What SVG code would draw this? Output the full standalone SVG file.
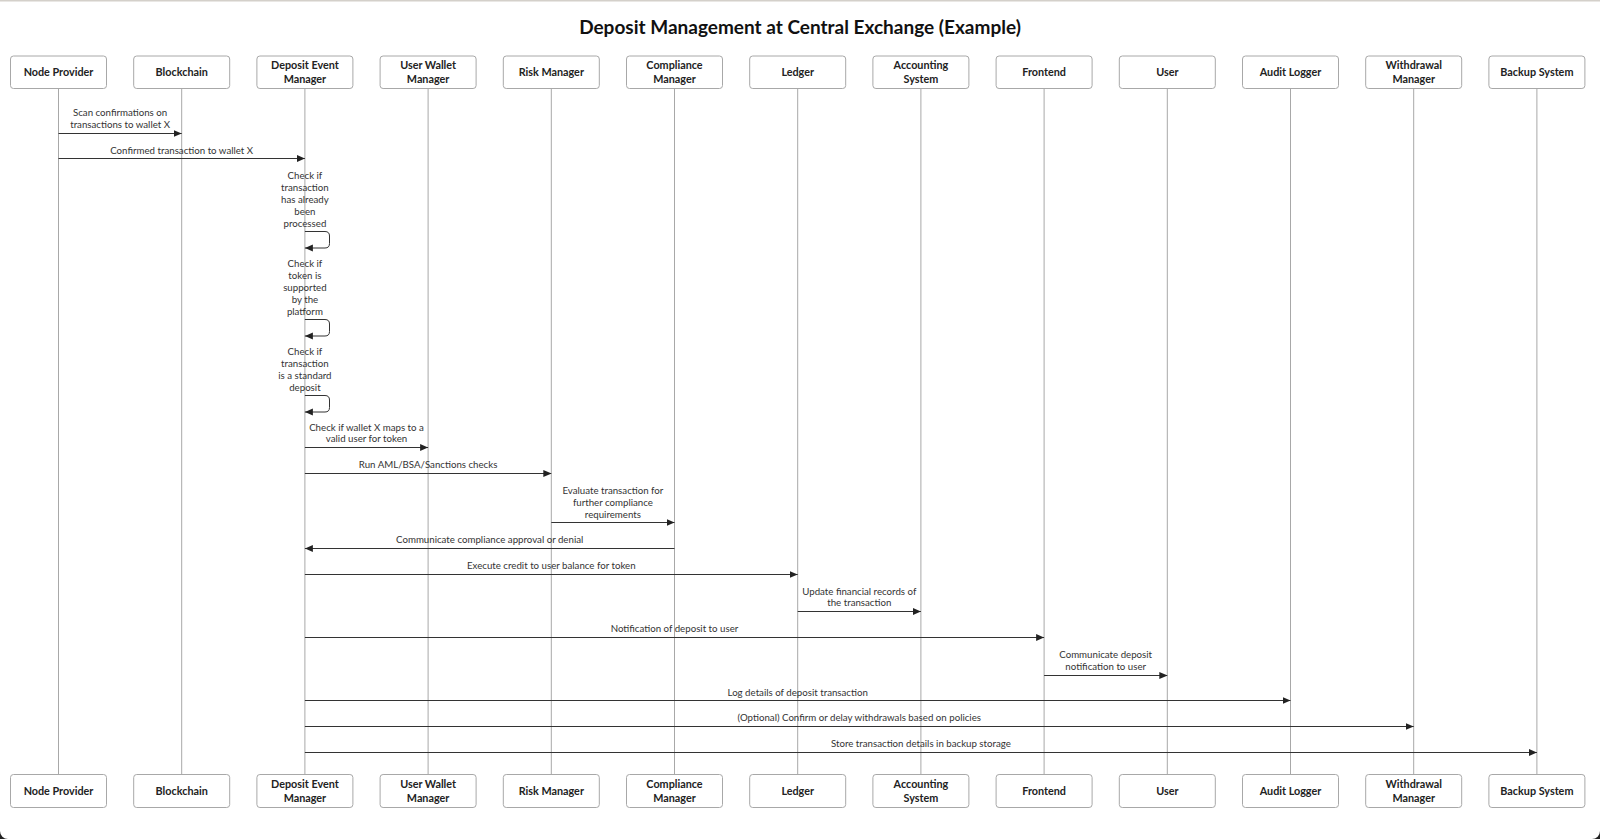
<svg xmlns="http://www.w3.org/2000/svg" width="1600" height="839" viewBox="0 0 1600 839">
<defs>
<marker id="ah" viewBox="0 0 8 8" refX="8" refY="4" markerWidth="8" markerHeight="8" markerUnits="userSpaceOnUse" orient="auto">
<path d="M0,0.5 L8,4 L0,7.5 Z" fill="#222"/>
</marker>
<style>
.box{fill:#fff;stroke:#a8a8a8;stroke-width:1}
.life{stroke:#a8a8a8;stroke-width:1;fill:none}
.msg{stroke:#333;stroke-width:1;fill:none;marker-end:url(#ah)}
.an{font-family:Lato,"Liberation Sans",sans-serif;font-size:10.8px;font-weight:bold;fill:#222;text-anchor:middle}
.ml{font-family:Lato,"Liberation Sans",sans-serif;font-size:9.7px;fill:#333;text-anchor:middle}
.title{font-family:Lato,"Liberation Sans",sans-serif;font-size:19px;font-weight:bold;fill:#111;text-anchor:middle}
</style>
</defs>
<rect x="0" y="0" width="1600" height="839" fill="#fff"/>
<rect x="0" y="0" width="1600" height="1.5" fill="#d4d0ca"/>
<path d="M0,831 A8,8 0 0 0 8,839 L0,839 Z" fill="#222"/>
<path d="M1600,831 A8,8 0 0 1 1592,839 L1600,839 Z" fill="#222"/>
<text class="title" x="800" y="33.5">Deposit Management at Central Exchange (Example)</text>

<g id="lifelines">
<line class="life" x1="58.5" y1="88" x2="58.5" y2="774"/>
<line class="life" x1="181.7" y1="88" x2="181.7" y2="774"/>
<line class="life" x1="304.9" y1="88" x2="304.9" y2="774"/>
<line class="life" x1="428.1" y1="88" x2="428.1" y2="774"/>
<line class="life" x1="551.3" y1="88" x2="551.3" y2="774"/>
<line class="life" x1="674.5" y1="88" x2="674.5" y2="774"/>
<line class="life" x1="797.7" y1="88" x2="797.7" y2="774"/>
<line class="life" x1="920.9" y1="88" x2="920.9" y2="774"/>
<line class="life" x1="1044.1" y1="88" x2="1044.1" y2="774"/>
<line class="life" x1="1167.3" y1="88" x2="1167.3" y2="774"/>
<line class="life" x1="1290.5" y1="88" x2="1290.5" y2="774"/>
<line class="life" x1="1413.7" y1="88" x2="1413.7" y2="774"/>
<line class="life" x1="1536.9" y1="88" x2="1536.9" y2="774"/>
</g>

<g id="node-provider">
<rect class="box" x="10.5" y="56" width="96" height="32.5" rx="3"/><text class="an" x="58.5" y="76">Node Provider</text>
<rect class="box" x="10.5" y="774.5" width="96" height="33" rx="3"/><text class="an" x="58.5" y="794.5">Node Provider</text>
</g>
<g id="blockchain">
<rect class="box" x="133.7" y="56" width="96" height="32.5" rx="3"/><text class="an" x="181.7" y="76">Blockchain</text>
<rect class="box" x="133.7" y="774.5" width="96" height="33" rx="3"/><text class="an" x="181.7" y="794.5">Blockchain</text>
</g>
<g id="deposit-event-manager">
<rect class="box" x="256.9" y="56" width="96" height="32.5" rx="3"/><text class="an" x="304.9" y="69">Deposit Event</text><text class="an" x="304.9" y="83">Manager</text>
<rect class="box" x="256.9" y="774.5" width="96" height="33" rx="3"/><text class="an" x="304.9" y="788">Deposit Event</text><text class="an" x="304.9" y="802">Manager</text>
</g>
<g id="user-wallet-manager">
<rect class="box" x="380.1" y="56" width="96" height="32.5" rx="3"/><text class="an" x="428.1" y="69">User Wallet</text><text class="an" x="428.1" y="83">Manager</text>
<rect class="box" x="380.1" y="774.5" width="96" height="33" rx="3"/><text class="an" x="428.1" y="788">User Wallet</text><text class="an" x="428.1" y="802">Manager</text>
</g>
<g id="risk-manager">
<rect class="box" x="503.3" y="56" width="96" height="32.5" rx="3"/><text class="an" x="551.3" y="76">Risk Manager</text>
<rect class="box" x="503.3" y="774.5" width="96" height="33" rx="3"/><text class="an" x="551.3" y="794.5">Risk Manager</text>
</g>
<g id="compliance-manager">
<rect class="box" x="626.5" y="56" width="96" height="32.5" rx="3"/><text class="an" x="674.5" y="69">Compliance</text><text class="an" x="674.5" y="83">Manager</text>
<rect class="box" x="626.5" y="774.5" width="96" height="33" rx="3"/><text class="an" x="674.5" y="788">Compliance</text><text class="an" x="674.5" y="802">Manager</text>
</g>
<g id="ledger">
<rect class="box" x="749.7" y="56" width="96" height="32.5" rx="3"/><text class="an" x="797.7" y="76">Ledger</text>
<rect class="box" x="749.7" y="774.5" width="96" height="33" rx="3"/><text class="an" x="797.7" y="794.5">Ledger</text>
</g>
<g id="accounting-system">
<rect class="box" x="872.9" y="56" width="96" height="32.5" rx="3"/><text class="an" x="920.9" y="69">Accounting</text><text class="an" x="920.9" y="83">System</text>
<rect class="box" x="872.9" y="774.5" width="96" height="33" rx="3"/><text class="an" x="920.9" y="788">Accounting</text><text class="an" x="920.9" y="802">System</text>
</g>
<g id="frontend">
<rect class="box" x="996.1" y="56" width="96" height="32.5" rx="3"/><text class="an" x="1044.1" y="76">Frontend</text>
<rect class="box" x="996.1" y="774.5" width="96" height="33" rx="3"/><text class="an" x="1044.1" y="794.5">Frontend</text>
</g>
<g id="user">
<rect class="box" x="1119.3" y="56" width="96" height="32.5" rx="3"/><text class="an" x="1167.3" y="76">User</text>
<rect class="box" x="1119.3" y="774.5" width="96" height="33" rx="3"/><text class="an" x="1167.3" y="794.5">User</text>
</g>
<g id="audit-logger">
<rect class="box" x="1242.5" y="56" width="96" height="32.5" rx="3"/><text class="an" x="1290.5" y="76">Audit Logger</text>
<rect class="box" x="1242.5" y="774.5" width="96" height="33" rx="3"/><text class="an" x="1290.5" y="794.5">Audit Logger</text>
</g>
<g id="withdrawal-manager">
<rect class="box" x="1365.7" y="56" width="96" height="32.5" rx="3"/><text class="an" x="1413.7" y="69">Withdrawal</text><text class="an" x="1413.7" y="83">Manager</text>
<rect class="box" x="1365.7" y="774.5" width="96" height="33" rx="3"/><text class="an" x="1413.7" y="788">Withdrawal</text><text class="an" x="1413.7" y="802">Manager</text>
</g>
<g id="backup-system">
<rect class="box" x="1488.9" y="56" width="96" height="32.5" rx="3"/><text class="an" x="1536.9" y="76">Backup System</text>
<rect class="box" x="1488.9" y="774.5" width="96" height="33" rx="3"/><text class="an" x="1536.9" y="794.5">Backup System</text>
</g>

<g id="connectors">
<line class="msg" x1="58.5" y1="133.5" x2="181.7" y2="133.5"/>
<text class="ml" x="120.1" y="116">Scan confirmations on</text>
<text class="ml" x="120.1" y="128">transactions to wallet X</text>

<line class="msg" x1="58.5" y1="158.5" x2="304.9" y2="158.5"/>
<text class="ml" x="181.7" y="153.5">Confirmed transaction to wallet X</text>

<text class="ml" x="304.9" y="179">Check if</text>
<text class="ml" x="304.9" y="191">transaction</text>
<text class="ml" x="304.9" y="203">has already</text>
<text class="ml" x="304.9" y="215">been</text>
<text class="ml" x="304.9" y="227">processed</text>
<path class="msg" d="M304.9,231.5 H325 Q329.5,231.5 329.5,236 V243.5 Q329.5,248 325,248 H304.9"/>

<text class="ml" x="304.9" y="267">Check if</text>
<text class="ml" x="304.9" y="279">token is</text>
<text class="ml" x="304.9" y="291">supported</text>
<text class="ml" x="304.9" y="303">by the</text>
<text class="ml" x="304.9" y="315">platform</text>
<path class="msg" d="M304.9,319.5 H325 Q329.5,319.5 329.5,324 V331.5 Q329.5,336 325,336 H304.9"/>

<text class="ml" x="304.9" y="355">Check if</text>
<text class="ml" x="304.9" y="367">transaction</text>
<text class="ml" x="304.9" y="379">is a standard</text>
<text class="ml" x="304.9" y="391">deposit</text>
<path class="msg" d="M304.9,395.5 H325 Q329.5,395.5 329.5,400 V407.5 Q329.5,412 325,412 H304.9"/>

<line class="msg" x1="304.9" y1="447.5" x2="428.1" y2="447.5"/>
<text class="ml" x="366.5" y="430.5">Check if wallet X maps to a</text>
<text class="ml" x="366.5" y="442.3">valid user for token</text>

<line class="msg" x1="304.9" y1="473.5" x2="551.3" y2="473.5"/>
<text class="ml" x="428.1" y="468">Run AML/BSA/Sanctions checks</text>

<line class="msg" x1="551.3" y1="522.5" x2="674.5" y2="522.5"/>
<text class="ml" x="612.9" y="494">Evaluate transaction for</text>
<text class="ml" x="612.9" y="505.8">further compliance</text>
<text class="ml" x="612.9" y="517.8">requirements</text>

<line class="msg" x1="674.5" y1="548.5" x2="304.9" y2="548.5"/>
<text class="ml" x="489.7" y="543">Communicate compliance approval or denial</text>

<line class="msg" x1="304.9" y1="574.5" x2="797.7" y2="574.5"/>
<text class="ml" x="551.3" y="569">Execute credit to user balance for token</text>

<line class="msg" x1="797.7" y1="611.5" x2="920.9" y2="611.5"/>
<text class="ml" x="859.3" y="594.7">Update financial records of</text>
<text class="ml" x="859.3" y="606.3">the transaction</text>

<line class="msg" x1="304.9" y1="637.5" x2="1044.1" y2="637.5"/>
<text class="ml" x="674.5" y="632.2">Notification of deposit to user</text>

<line class="msg" x1="1044.1" y1="675.5" x2="1167.3" y2="675.5"/>
<text class="ml" x="1105.7" y="658">Communicate deposit</text>
<text class="ml" x="1105.7" y="669.6">notification to user</text>

<line class="msg" x1="304.9" y1="700.5" x2="1290.5" y2="700.5"/>
<text class="ml" x="797.7" y="695.6">Log details of deposit transaction</text>

<line class="msg" x1="304.9" y1="726.5" x2="1413.7" y2="726.5"/>
<text class="ml" x="859.3" y="721">(Optional) Confirm or delay withdrawals based on policies</text>

<line class="msg" x1="304.9" y1="752.5" x2="1536.9" y2="752.5"/>
<text class="ml" x="920.9" y="746.5">Store transaction details in backup storage</text>
</g>
</svg>
